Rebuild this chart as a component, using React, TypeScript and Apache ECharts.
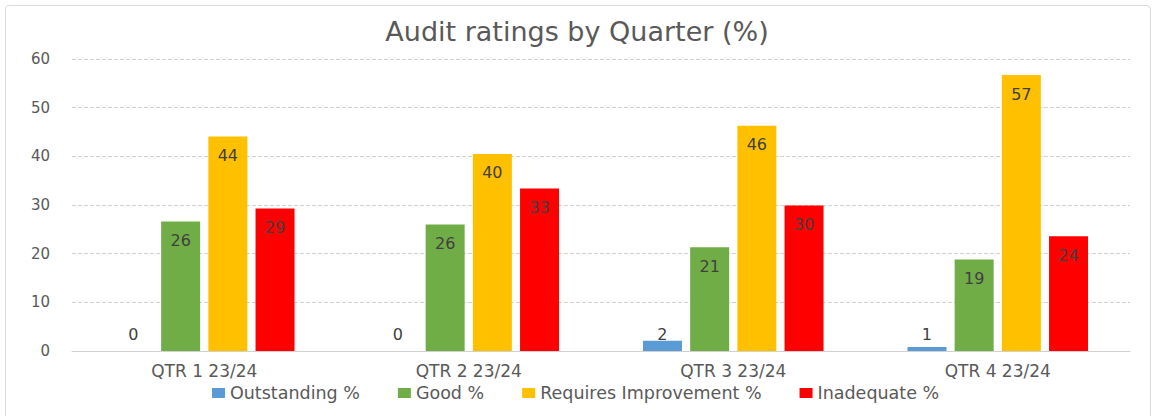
import React, { useEffect, useRef } from "react";
import * as echarts from "echarts";

const categories = ["QTR 1 23/24", "QTR 2 23/24", "QTR 3 23/24", "QTR 4 23/24"];
const seriesNames = ["Outstanding %", "Good %", "Requires Improvement %", "Inadequate %"];
const outstanding = [0, 0, 2.1, 0.8];
const good = [26.6, 26.0, 21.3, 18.8];
const requiresImprovement = [44.1, 40.5, 46.3, 56.7];
const inadequate = [29.3, 33.4, 29.9, 23.6];
const outstandingLabels = [0, 0, 2, 1];
const goodLabels = [26, 26, 21, 19];
const requiresLabels = [44, 40, 46, 57];
const inadequateLabels = [29, 33, 30, 24];
const yTicks = [0, 10, 20, 30, 40, 50, 60];

const colors = ["#5B9BD5", "#70AD47", "#FFC000", "#FF0000"];
const FONT = "DejaVu Sans";

export default function App() {
  const ref = useRef<HTMLDivElement>(null);
  useEffect(() => {
    document.body.style.margin = "0";
    const chart = echarts.init(ref.current!, undefined, { renderer: "svg" });
    const allValues = [outstanding, good, requiresImprovement, inadequate];
    const allLabels = [outstandingLabels, goodLabels, requiresLabels, inadequateLabels];
    const series = allValues.map((vals, si) => ({
      name: seriesNames[si],
      type: "bar",
      barWidth: 39,
      barGap: "21%",
      itemStyle: { color: colors[si] },
      data: vals.map((v, i) => ({
        value: v,
        label: {
          show: true,
          position: v < 5 ? "insideBottom" : "insideTop",
          distance: v < 5 ? 8.5 : 11,
          formatter: () => String(allLabels[si][i]),
          color: "#404040",
          fontSize: 16,
          fontFamily: FONT,
        },
      })),
    }));
    chart.setOption({
      animation: false,
      textStyle: { fontFamily: FONT },
      title: {
        text: "Audit ratings by Quarter (%)",
        left: "center",
        top: 18,
        padding: 0,
        textStyle: { fontSize: 27, fontWeight: "normal", color: "#595959", fontFamily: FONT },
      },
      legend: {
        data: seriesNames,
        left: 212,
        top: 384,
        padding: 0,
        itemWidth: 13,
        itemHeight: 10,
        itemGap: 38,
        icon: "rect",
        textStyle: { fontSize: 17.5, color: "#595959", fontFamily: FONT },
      },
      grid: { left: 72, right: 24, top: 59, bottom: 65, containLabel: false },
      xAxis: {
        type: "category",
        data: categories,
        axisTick: { show: false },
        axisLine: { lineStyle: { color: "#d0d0d0", width: 1 } },
        axisLabel: { color: "#595959", fontSize: 17, margin: 11, fontFamily: FONT },
      },
      yAxis: {
        type: "value",
        min: yTicks[0],
        max: yTicks[yTicks.length - 1],
        interval: 10,
        axisLine: { show: false },
        axisTick: { show: false },
        axisLabel: { color: "#595959", fontSize: 15, margin: 22, fontFamily: FONT },
        splitLine: { lineStyle: { color: "#d0d0d0", type: [4, 2], width: 1 } },
      },
      graphic: [
        {
          type: "rect",
          shape: { x: 5.5, y: 5.5, width: 1145, height: 420, r: 4 },
          style: { fill: "none", stroke: "#d9d9d9", lineWidth: 1 },
          silent: true,
          z: -10,
        },
      ],
      series,
    });
    return () => chart.dispose();
  }, []);
  return <div ref={ref} style={{ width: 1154, height: 416 }} />;
}
